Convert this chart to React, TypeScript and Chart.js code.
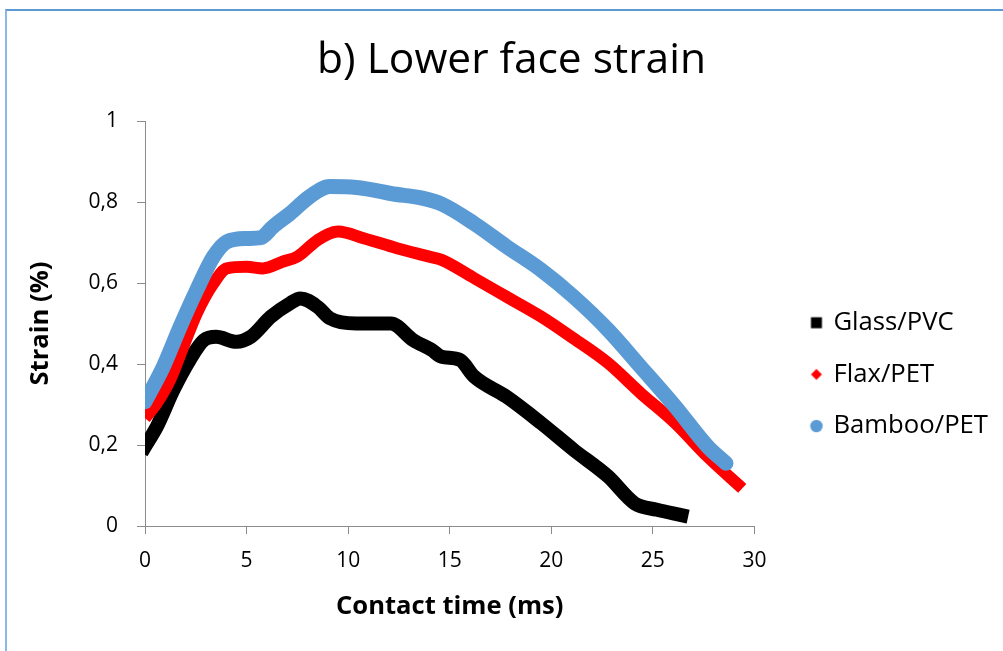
import React, { useEffect, useRef } from 'react';
import { Chart, registerables } from 'chart.js';

Chart.register(...registerables);

const chartTitle = 'b) Lower face strain';
const xAxisTitle = 'Contact time (ms)';
const yAxisTitle = 'Strain (%)';
const seriesNames = ['Glass/PVC', 'Flax/PET', 'Bamboo/PET'];
const seriesColors = ['#000000', '#ff0000', '#5b9bd5'];

const glassTime = [0, 0.58, 1.4, 2.2, 2.9, 3.5, 4.5, 5.2, 6.2, 7.15, 7.65, 8.5, 9.1, 10.4, 12.1, 13.2, 14.1, 14.6, 15.5, 16.2, 17.8, 19.5, 21.1, 22.8, 24.1, 25.2, 26.4];
const glassStrain = [0.196, 0.245, 0.336, 0.41, 0.459, 0.467, 0.455, 0.467, 0.517, 0.55, 0.562, 0.541, 0.513, 0.5, 0.5, 0.459, 0.435, 0.418, 0.41, 0.369, 0.319, 0.254, 0.188, 0.122, 0.056, 0.04, 0.027];

const flaxTime = [0, 0.58, 1.23, 1.89, 2.55, 3.37, 4.03, 5.0, 5.8, 6.8, 7.5, 8.5, 9.5, 10.8, 12.4, 14.0, 14.6, 16.2, 17.8, 19.5, 21.1, 22.8, 24.4, 26.1, 27.7, 29.4];
const flaxStrain = [0.266, 0.303, 0.36, 0.443, 0.525, 0.599, 0.636, 0.64, 0.636, 0.653, 0.665, 0.706, 0.727, 0.71, 0.686, 0.665, 0.657, 0.612, 0.566, 0.517, 0.463, 0.402, 0.328, 0.254, 0.171, 0.093];

const bambooTime = [0, 0.9, 1.73, 2.55, 3.37, 4.03, 5.0, 5.7, 6.3, 7.15, 8.1, 9.1, 10.4, 11.2, 12.1, 13.7, 14.6, 16.2, 17.8, 19.5, 21.1, 22.8, 24.4, 26.1, 27.7, 28.6];
const bambooStrain = [0.307, 0.393, 0.492, 0.583, 0.665, 0.702, 0.71, 0.712, 0.739, 0.772, 0.813, 0.838, 0.836, 0.83, 0.821, 0.809, 0.795, 0.747, 0.69, 0.632, 0.566, 0.484, 0.393, 0.295, 0.196, 0.155];

const xMin = 0;
const xMax = 30;
const xStep = 5;
const yMin = 0;
const yMax = 1;
const yStep = 0.2;

const FONT = 'Open Sans';

function toPoints(xs: number[], ys: number[]) {
  return xs.map((x, i) => ({ x, y: ys[i] }));
}

function makeMarker(kind: string, color: string): HTMLCanvasElement {
  const c = document.createElement('canvas');
  c.width = 46;
  c.height = 16;
  const ctx = c.getContext('2d')!;
  ctx.fillStyle = color;
  const cx = 38.9;
  const cy = 8;
  if (kind === 'square') {
    ctx.fillRect(cx - 5.5, cy - 5.5, 11, 11);
  } else if (kind === 'diamond') {
    ctx.beginPath();
    ctx.moveTo(cx, cy - 5.5);
    ctx.lineTo(cx + 5.5, cy);
    ctx.lineTo(cx, cy + 5.5);
    ctx.lineTo(cx - 5.5, cy);
    ctx.closePath();
    ctx.fill();
  } else {
    ctx.beginPath();
    ctx.arc(cx, cy, 6.2, 0, Math.PI * 2);
    ctx.fill();
  }
  return c;
}

function fmtComma(v: number) {
  const r = Math.round(v * 10) / 10;
  return String(r).replace('.', ',');
}

export default function App() {
  const ref = useRef<HTMLCanvasElement | null>(null);

  useEffect(() => {
    if (!ref.current) return;
    const markers = [
      makeMarker('square', seriesColors[0]),
      makeMarker('diamond', seriesColors[1]),
      makeMarker('circle', seriesColors[2]),
    ];
    const axisColor = '#8c8c8c';
    const lineCommon = {
      pointRadius: 0,
      borderJoinStyle: 'round',
      cubicInterpolationMode: 'monotone',
    };
    const chart = new Chart(ref.current, {
      type: 'line',
      data: {
        datasets: [
          {
            ...lineCommon,
            label: seriesNames[0],
            data: toPoints(glassTime, glassStrain),
            borderColor: seriesColors[0],
            backgroundColor: seriesColors[0],
            borderWidth: 14,
            borderCapStyle: 'square',
            order: 3,
          },
          {
            ...lineCommon,
            label: seriesNames[1],
            data: toPoints(flaxTime, flaxStrain),
            borderColor: seriesColors[1],
            backgroundColor: seriesColors[1],
            borderWidth: 12,
            borderCapStyle: 'butt',
            order: 2,
          },
          {
            ...lineCommon,
            label: seriesNames[2],
            data: toPoints(bambooTime, bambooStrain),
            borderColor: seriesColors[2],
            backgroundColor: seriesColors[2],
            borderWidth: 15,
            borderCapStyle: 'round',
            order: 1,
          },
        ],
      },
      options: {
        responsive: false,
        animation: false,
        events: [],
        layout: { padding: { left: 25, right: 5, top: 0, bottom: 0 } },
        plugins: {
          title: {
            display: true,
            text: chartTitle,
            color: '#000',
            font: { family: FONT, size: 42.5, weight: 'normal', lineHeight: 1.2 },
            padding: { top: 35, bottom: 35 },
          },
          legend: {
            position: 'right',
            align: 'start',
            maxWidth: 250,
            title: {
              display: true,
              text: '',
              font: { size: 10, lineHeight: 1.2 },
              padding: { top: 271.85, bottom: 0 },
            },
            labels: {
              usePointStyle: true,
              pointStyleWidth: 40.15,
              padding: 26,
              color: '#000',
              font: { family: FONT, size: 25.7 },
              generateLabels: (ch: any) =>
                ch.data.datasets.map((ds: any, i: number) => ({
                  text: ds.label,
                  fillStyle: ds.borderColor,
                  strokeStyle: ds.borderColor,
                  lineWidth: 0,
                  pointStyle: markers[i],
                  hidden: !ch.isDatasetVisible(i),
                  datasetIndex: i,
                  fontColor: '#000',
                })),
            },
          },
          tooltip: { enabled: false },
        },
        scales: {
          x: {
            type: 'linear',
            min: xMin,
            max: xMax,
            ticks: {
              stepSize: xStep,
              color: '#000',
              font: { family: FONT, size: 21 },
              padding: 14,
              maxRotation: 0,
            },
            grid: { drawOnChartArea: false, drawTicks: true, tickLength: 8, color: axisColor },
            border: { color: axisColor, width: 1 },
            title: {
              display: true,
              text: xAxisTitle,
              color: '#000',
              font: { family: FONT, size: 25.6, weight: 'bold' },
              padding: { top: 0, bottom: 29 },
            },
            afterFit: (s: any) => {
              s.height = 125;
            },
          },
          y: {
            type: 'linear',
            min: yMin,
            max: yMax,
            ticks: {
              stepSize: yStep,
              color: '#000',
              font: { family: FONT, size: 21 },
              padding: 19,
              callback: (v: any) => fmtComma(Number(v)),
            },
            grid: { drawOnChartArea: false, drawTicks: true, tickLength: 8, color: axisColor },
            border: { color: axisColor, width: 1 },
            title: {
              display: true,
              text: yAxisTitle,
              color: '#000',
              font: { family: FONT, size: 25.6, weight: 'bold' },
              padding: { top: 0.65, bottom: 0 },
            },
            afterFit: (s: any) => {
              s.width = 120;
            },
          },
        },
      },
    } as any);
    return () => chart.destroy();
  }, []);

  return (
    <div style={{ position: 'absolute', left: 0, top: 0, width: 1003, height: 651, overflow: 'hidden', background: '#fff' }}>
      <div
        style={{
          position: 'absolute',
          left: 5,
          top: 9,
          width: 998,
          height: 642,
          borderTop: '2px solid #5b9bd5',
          borderLeft: '2px solid #8db8e4',
          boxSizing: 'border-box',
        }}
      />
      <canvas ref={ref} width={1003} height={651} style={{ position: 'absolute', left: 0, top: 0, width: 1003, height: 651 }} />
    </div>
  );
}
